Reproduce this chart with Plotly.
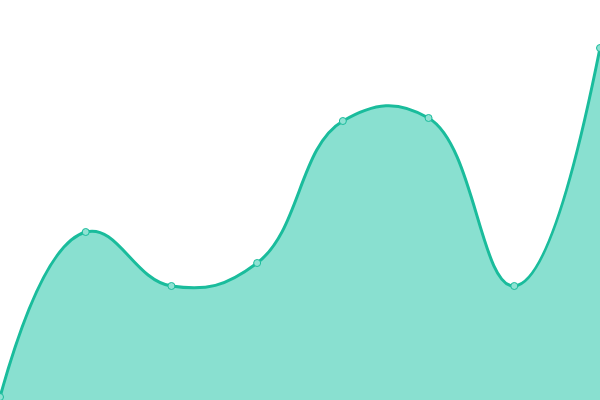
import plotly.graph_objects as go

# Values (pixel height above the bottom edge)
x_vals = [0, 1, 2, 3, 4, 5, 6, 7]
y_vals = [3, 168, 114, 137, 279, 282, 114, 352]

line_color = '#1abc9c'
fill_color = '#89e0d0'
marker_fill = '#8fe2d3'

fig = go.Figure()

fig.add_trace(go.Scatter(
    x=x_vals,
    y=y_vals,
    mode='lines+markers',
    fill='tozeroy',
    fillcolor=fill_color,
    line=dict(color=line_color, width=3, shape='spline', smoothing=1.25),
    marker=dict(size=7, color=marker_fill, line=dict(color=line_color, width=1)),
    hoverinfo='skip'
))

fig.update_layout(
    width=600,
    height=400,
    margin=dict(l=0, r=0, t=0, b=0),
    paper_bgcolor='white',
    plot_bgcolor='white',
    showlegend=False,
    xaxis=dict(range=[0, 7], visible=False, fixedrange=True),
    yaxis=dict(range=[0, 400], visible=False, fixedrange=True)
)

# drop the browser's default body margin so the chart sits at the top-left corner
fig.write_html('out.html', config={'displayModeBar': False},
               post_script="document.body.style.margin='0';document.body.style.overflow='hidden';")
